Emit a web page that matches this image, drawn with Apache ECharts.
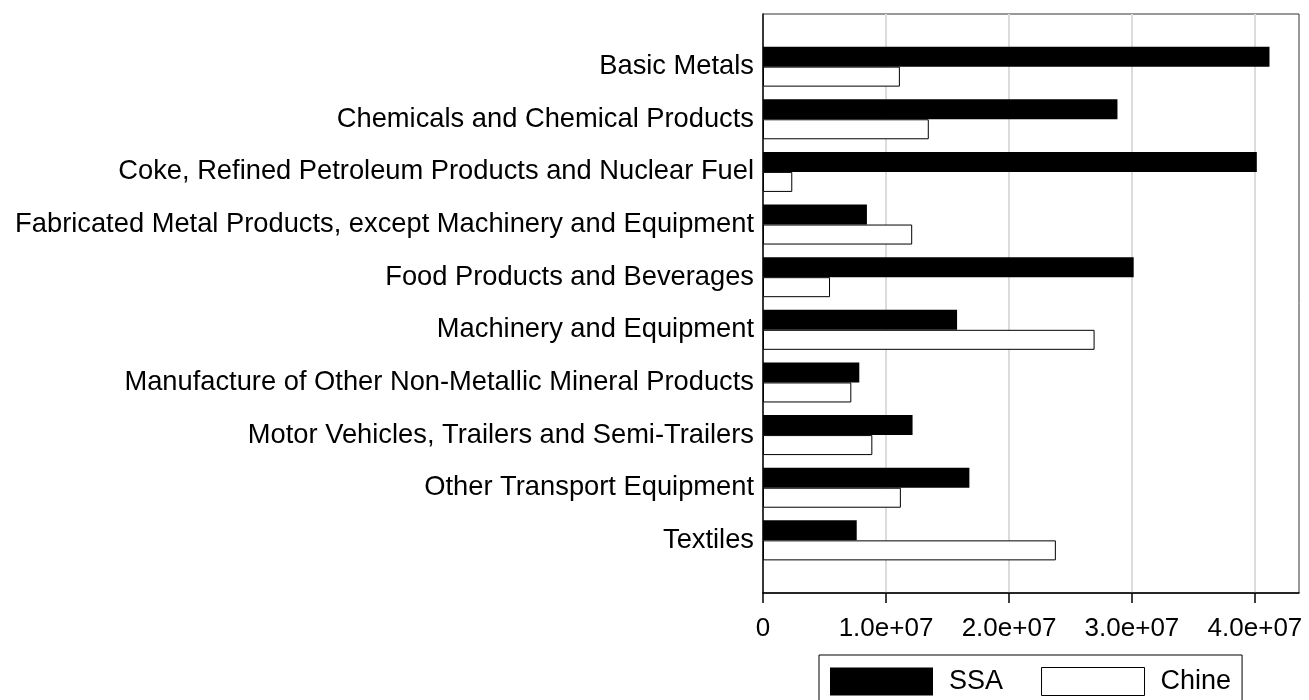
<!DOCTYPE html>
<html><head><meta charset="utf-8">
<script src="https://cdn.jsdelivr.net/npm/echarts@6/dist/echarts.min.js"></script>
<style>html,body{margin:0;padding:0;background:#fff}#c{width:1309px;height:700px}</style>
</head><body><div id="c"></div><script>
const categories = ['Basic Metals', 'Chemicals and Chemical Products', 'Coke, Refined Petroleum Products and Nuclear Fuel', 'Fabricated Metal Products, except Machinery and Equipment', 'Food Products and Beverages', 'Machinery and Equipment', 'Manufacture of Other Non-Metallic Mineral Products', 'Motor Vehicles, Trailers and Semi-Trailers', 'Other Transport Equipment', 'Textiles'];
const ssa = [41180000, 28820000, 40150000, 8450000, 30140000, 15780000, 7830000, 12160000, 16780000, 7620000];
const chine = [11130000, 13480000, 2380000, 12130000, 5450000, 26960000, 7180000, 8890000, 11210000, 23810000];
const xTicks = [0, 10000000, 20000000, 30000000, 40000000];
const xTickLabels = ['0', '1.0e+07', '2.0e+07', '3.0e+07', '4.0e+07'];
const seriesNames = ['SSA', 'Chine'];

const FONT = '"Liberation Sans", Arial, sans-serif';
const yCats = [''].concat(categories, ['']);
const pad = a => [null].concat(a, [null]);

const chart = echarts.init(document.getElementById('c'), null, {renderer: 'canvas'});
chart.setOption({
  animation: false,
  backgroundColor: '#fff',
  grid: {left: 763, right: 10, top: 14, bottom: 107, show: true, borderColor: '#333', borderWidth: 1, containLabel: false},
  xAxis: {
    type: 'value', min: 0, max: 43580000, interval: 10000000,
    axisLine: {show: true, lineStyle: {color: '#000', width: 1.5}},
    axisTick: {show: true, customValues: xTicks, length: 10, lineStyle: {color: '#000', width: 1.5}},
    axisLabel: {customValues: xTicks, formatter: v => xTickLabels[xTicks.indexOf(v)], fontFamily: FONT, fontSize: 26, color: '#000', margin: 23},
    splitLine: {show: true, lineStyle: {color: '#dcdcdc', width: 2}}
  },
  yAxis: {
    type: 'category', data: yCats, inverse: true, boundaryGap: false,
    axisLine: {show: true, lineStyle: {color: '#000', width: 1.5}},
    axisTick: {show: false},
    axisLabel: {fontFamily: FONT, fontSize: 27.3, color: '#000', margin: 9, interval: 0},
    splitLine: {show: false}
  },
  legend: {
    left: 819, top: 655, orient: 'horizontal',
    itemWidth: 103, itemHeight: 28, itemGap: 38,
    padding: [12, 11, 20, 11],
    borderColor: '#000', borderWidth: 1, backgroundColor: '#fff',
    icon: 'rect',
    textStyle: {fontFamily: FONT, fontSize: 27, color: '#000', padding: [0, 0, 0, 11]},
    data: [
      {name: seriesNames[0], itemStyle: {color: '#000'}},
      {name: seriesNames[1], itemStyle: {color: '#fff', borderColor: '#000', borderWidth: 1}}
    ]
  },
  series: [
    {name: seriesNames[0], type: 'bar', data: pad(ssa), barWidth: 20, barGap: '0%', itemStyle: {color: '#000'}, emphasis: {disabled: true}},
    {name: seriesNames[1], type: 'bar', data: pad(chine), barWidth: 20, barGap: '0%', itemStyle: {color: '#fff', borderColor: '#000', borderWidth: 1}, emphasis: {disabled: true}}
  ]
});
</script></body></html>
